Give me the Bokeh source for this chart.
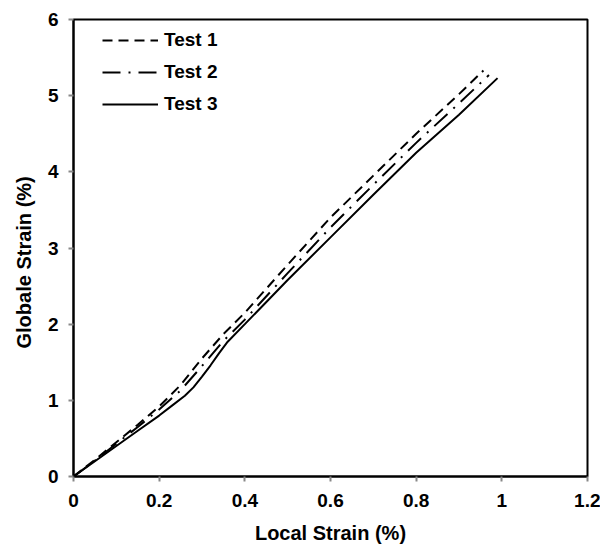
from bokeh.plotting import figure
from bokeh.models import Legend, LegendItem, Range1d, FixedTicker, Title
from bokeh.embed import file_html
from bokeh.resources import INLINE

# Data
test1_x = [0, 0.05, 0.10, 0.15, 0.20, 0.25, 0.30, 0.35, 0.40, 0.50, 0.60, 0.70, 0.80, 0.90, 0.957]
test1_y = [0, 0.22, 0.45, 0.68, 0.92, 1.20, 1.55, 1.87, 2.15, 2.78, 3.40, 3.95, 4.50, 5.02, 5.33]
test2_x = [0, 0.05, 0.10, 0.15, 0.20, 0.25, 0.30, 0.35, 0.40, 0.50, 0.60, 0.70, 0.80, 0.90, 0.970]
test2_y = [0, 0.21, 0.43, 0.65, 0.88, 1.13, 1.45, 1.78, 2.06, 2.67, 3.27, 3.83, 4.38, 4.90, 5.27]
test3_x = [0, 0.05, 0.10, 0.15, 0.20, 0.23, 0.26, 0.28, 0.30, 0.32, 0.34, 0.36, 0.40, 0.50, 0.60, 0.70, 0.80, 0.90, 0.99]
test3_y = [0, 0.20, 0.40, 0.60, 0.80, 0.93, 1.06, 1.17, 1.31, 1.46, 1.62, 1.77, 2.00, 2.58, 3.14, 3.70, 4.25, 4.75, 5.23]

x_ticks = [0, 0.2, 0.4, 0.6, 0.8, 1.0, 1.2]
x_tick_labels = {0: "0", 0.2: "0.2", 0.4: "0.4", 0.6: "0.6", 0.8: "0.8", 1.0: "1", 1.2: "1.2"}
y_ticks = [0, 1, 2, 3, 4, 5, 6]

FONT = "Liberation Sans"

p = figure(width=600, height=550, output_backend="svg", toolbar_location=None,
           x_range=Range1d(0, 1.2), y_range=Range1d(0, 6),
           min_border_left=73, min_border_right=13, min_border_top=19, min_border_bottom=74)

p.xgrid.visible = False
p.ygrid.visible = False
p.outline_line_color = "black"
p.outline_line_width = 2
p.background_fill_color = "white"
p.border_fill_color = "white"

l1 = p.line(test1_x, test1_y, line_color="black", line_width=2, line_dash="10 6")
l2 = p.line(test2_x, test2_y, line_color="black", line_width=2, line_dash="18 8 2 8")
l3 = p.line(test3_x, test3_y, line_color="black", line_width=2)

for ax in (p.xaxis[0], p.yaxis[0]):
    ax.axis_line_color = "black"
    ax.axis_line_width = 2
    ax.major_tick_line_color = "#888888"
    ax.major_tick_line_width = 2
    ax.major_tick_out = 5
    ax.major_tick_in = 0
    ax.minor_tick_line_color = None
    ax.major_label_text_font = FONT
    ax.major_label_text_font_style = "bold"
    ax.major_label_text_font_size = "19px"
    ax.major_label_text_color = "black"
    ax.axis_label_text_font = FONT
    ax.axis_label_text_font_style = "bold"
    ax.axis_label_text_font_size = "20px"
    ax.axis_label_text_color = "black"

p.xaxis.ticker = FixedTicker(ticks=x_ticks)
p.xaxis.major_label_overrides = x_tick_labels
p.yaxis.ticker = FixedTicker(ticks=y_ticks)
p.xaxis.axis_label = "Local Strain (%)"
p.xaxis.major_label_standoff = 12
p.yaxis.major_label_standoff = 10
p.xaxis.axis_label_standoff = 12

ytitle = Title(text="Globale Strain (%)", align="left", offset=128, vertical_align="bottom",
               standoff=20, text_font=FONT, text_font_style="bold",
               text_font_size="20px", text_color="black")
p.add_layout(ytitle, "left")

legend = Legend(items=[LegendItem(label="Test 1", renderers=[l1]),
                       LegendItem(label="Test 2", renderers=[l2]),
                       LegendItem(label="Test 3", renderers=[l3])],
                location=(29, 361), border_line_color=None, background_fill_alpha=0,
                padding=0, margin=0, spacing=10, glyph_width=56, glyph_height=20,
                label_standoff=6, label_height=20,
                label_text_font=FONT, label_text_font_style="bold",
                label_text_font_size="19px", label_text_color="black")
p.add_layout(legend)

open("out.html", "w").write(file_html(p, INLINE))
